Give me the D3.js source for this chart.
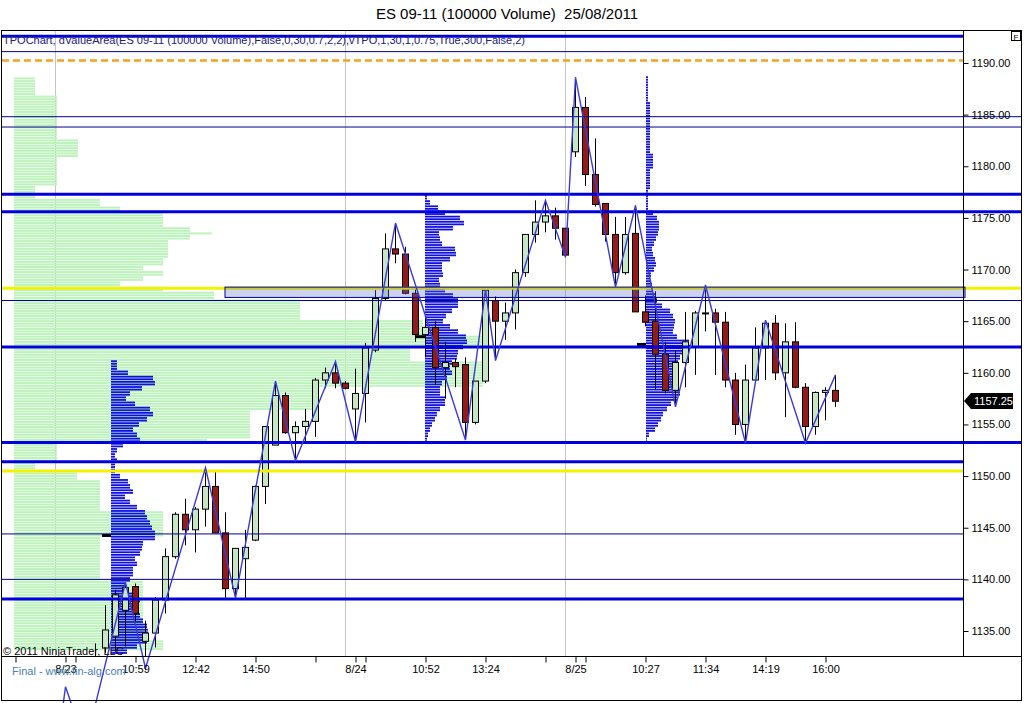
<!DOCTYPE html>
<html><head><meta charset="utf-8">
<script src="https://cdn.jsdelivr.net/npm/d3@7"></script>
<style>
html,body{margin:0;padding:0;background:#fff;overflow:hidden;}
svg{display:block;font-family:Arial,"Liberation Sans",sans-serif;}
</style></head><body>
<svg id="c" width="1024" height="703"></svg>
<script>
// ---------------- DATA ----------------
const chartTitle = "ES 09-11 (100000 Volume)  25/08/2011";
const indicatorLabel = "TPOChart, dValueArea(ES 09-11 (100000 Volume),False,0,30,0.7,2,2),vTPO,1,30,1,0.75,True,300,False,2)";
const copyright = "© 2011 NinjaTrader, LLC";
const footer = "Final - www.fin-alg.com";

const priceTicks = [1135,1140,1145,1150,1155,1160,1165,1170,1175,1180,1185,1190];
const lastPrice = 1157.25;

// time axis: bar index -> label ("" = unlabeled tick)
const timeTickBars   = [1, 6, 7, 13, 19, 25, 31, 35, 36, 42, 48, 54, 57, 58, 64, 70, 76, 82];
const timeTickLabels = ["", "8/23", "", "10:59", "12:42", "14:50", "", "8/24", "", "10:52", "13:24", "", "8/25", "", "10:27", "11:34", "14:19", "16:00"];
const sessionBreakBars = [5, 34, 56];

// candles (first bar index 9)
const firstBar = 9;
const opens  = [1130.5,1133.35,1134.5,1137.0,1139.3,1134.0,1134.8,1138.0,1142.2,1146.3,1144.8,1146.8,1149.0,1144.5,1139.1,1142.0,1143.8,1149.0,1153.0,1157.8,1154.2,1154.8,1155.3,1159.3,1160.0,1159.0,1156.5,1158.0,1162.2,1167.2,1172.0,1171.5,1167.7,1163.7,1164.4,1160.5,1161.0,1160.8,1155.2,1159.2,1167.0,1165.0,1165.8,1169.7,1173.4,1174.6,1175.2,1174.0,1181.4,1185.7,1179.2,1176.4,1173.4,1169.7,1173.5,1165.9,1165.0,1161.8,1158.3,1161.0,1162.5,1165.8,1165.8,1164.9,1159.3,1155.0,1159.3,1162.4,1164.8,1160.0,1163.0,1158.6,1154.8,1158.1,1158.3];
const highs  = [1133.8,1137.5,1139.0,1139.7,1139.6,1136.0,1138.3,1143.0,1146.5,1147.8,1147.0,1150.8,1150.4,1146.5,1143.0,1144.8,1149.1,1154.8,1159.2,1158.1,1155.3,1156.5,1159.5,1160.5,1161.1,1159.2,1160.4,1162.9,1168.0,1173.5,1174.5,1172.2,1168.2,1165.5,1165.0,1163.0,1161.4,1161.5,1159.2,1168.0,1167.4,1166.8,1170.0,1173.4,1176.7,1176.7,1176.0,1174.0,1188.6,1186.7,1182.7,1176.4,1175.1,1175.1,1176.2,1167.5,1167.9,1163.0,1162.2,1165.9,1166.0,1168.5,1166.2,1165.9,1160.0,1160.8,1164.4,1165.1,1165.6,1164.8,1164.9,1159.0,1158.2,1158.6,1159.8];
const lows   = [1128.5,1132.9,1133.0,1133.5,1135.9,1131.4,1133.4,1136.7,1142.0,1143.3,1142.6,1145.1,1144.5,1138.2,1138.2,1138.2,1143.7,1147.3,1153.0,1154.1,1151.5,1153.3,1153.8,1158.5,1158.5,1158.4,1153.3,1155.2,1162.0,1167.0,1170.6,1167.6,1163.0,1161.5,1158.8,1157.5,1158.6,1153.5,1155.0,1159.0,1161.2,1163.2,1164.2,1169.3,1172.6,1173.6,1172.9,1171.2,1180.9,1178.1,1176.1,1172.7,1168.3,1169.5,1165.9,1164.5,1158.4,1158.0,1156.7,1158.6,1159.8,1164.0,1159.8,1158.6,1154.0,1153.2,1159.3,1159.3,1159.3,1155.7,1158.5,1153.2,1154.0,1155.4,1156.7];
const closes = [1132.5,1135.1,1138.5,1139.2,1136.7,1134.8,1138.0,1142.2,1146.3,1144.8,1146.8,1149.0,1144.5,1139.1,1143.0,1143.1,1149.0,1154.8,1157.8,1154.2,1154.8,1155.3,1159.3,1160.0,1159.0,1158.5,1158.0,1162.4,1167.2,1172.0,1171.5,1167.7,1163.7,1164.4,1160.5,1161.0,1160.6,1155.2,1159.2,1168.0,1165.0,1165.8,1169.7,1173.4,1174.6,1175.2,1174.0,1171.4,1185.7,1179.2,1176.3,1173.4,1169.7,1173.4,1165.9,1164.9,1161.8,1158.3,1161.0,1163.0,1165.8,1165.8,1164.9,1159.3,1155.0,1159.3,1162.4,1164.8,1160.0,1163.0,1158.6,1154.8,1158.1,1158.3,1157.25];

// zigzag swing points [bar, price]
const zigzag = [[5,1122.3],[6,1129.6],[8,1124.0],[12,1139.7],[14,1131.4],[20,1150.8],[23,1138.2],[27,1159.2],[29,1151.5],[33,1161.1],[35,1153.3],[39,1174.5],[46,1153.5],[48,1168.0],[49,1161.2],[54,1176.7],[56,1171.2],[57,1188.6],[61,1168.3],[63,1176.2],[67,1156.7],[70,1168.5],[74,1153.2],[76,1165.1],[80,1153.2],[83,1159.8]];

// horizontal levels
const thickLevelsPrior   = [1192.6, 1151.4, 1138.1];
const thickLevelsCurrent = [1177.3, 1175.6, 1162.5, 1153.25];
const thinLevelsPrior    = [1191.1, 1144.4, 1140.0];
const thinLevelsCurrent  = [1184.8, 1183.8, 1167.0];
const yellowLevelsPrior  = [1150.5];
const yellowLevelsCurrent= [1168.2];
const orangeLevels       = [1190.25];
const valueBox = {fromBar: 22, hi: 1168.3, lo: 1167.3};

// composite (green) profile: [high price, low price, volume]
const greenProfileStartBar = 0.9;
const greenProfile = [
 [1188.5,1187.0,21],[1186.75,1182.75,43],[1182.5,1181.0,64],[1180.75,1178.25,43],[1178.0,1177.0,21],
 [1176.75,1176.25,86],[1176.0,1175.75,106],[1175.5,1174.25,149],[1174.0,1173.75,176],[1173.5,1173.5,198],
 [1173.25,1173.0,176],[1172.75,1171.25,154],[1171.0,1170.5,149],[1170.25,1170.0,129],[1169.75,1169.5,149],
 [1169.25,1169.0,129],[1168.75,1168.5,106],[1168.25,1168.0,149],[1167.75,1167.25,200],[1167.0,1165.25,286],
 [1165.0,1163.75,409],[1163.5,1162.5,469],[1162.25,1161.25,396],[1161.0,1158.75,469],[1158.5,1156.5,299],
 [1156.25,1153.75,236],[1153.5,1153.5,193],[1153.25,1151.5,43],[1151.25,1150.75,21],[1150.5,1149.75,63],
 [1149.5,1146.75,86],[1146.5,1144.25,149],[1144.0,1140.0,86],[1139.75,1134.25,129],[1134.0,1133.25,149]
];

// session (blue) profiles: volume per 0.5 point, from top price downward
const profileStartBars = [10.6, 42, 64.1];
const profileTops = [1161, 1177, 1188.5];
const profilePOC = [1144.25, 1163.5, 1162.75];
const profile1 = [6,6,17,42,44,31,19,15,24,39,42,36,28,22,26,29,12,6,4,6,4,4,9,17,19,22,14,19,26,34,36,39,41,44,44,32,31,29,24,26,22,22,19,14,12,22,29,26,26,29,32,36,37,37,36,26,16];
const profile2 = [2,5,13,20,35,39,28,14,15,17,30,31,25,17,17,18,14,15,20,28,33,33,27,21,18,25,33,41,42,38,33,32,27,25,27,22,17,15,15,20,20,15,12,10,7,5,3,2];
const profile3 = [2,2,2,2,2,4,4,4,4,4,4,4,4,4,4,7,7,7,4,4,4,4,2,2,2,2,7,11,13,13,12,10,8,6,7,9,10,8,5,4,6,6,9,11,16,24,27,29,28,27,31,43,44,41,34,32,31,30,28,26,32,34,31,25,21,17,15,12,9,3,1];
const profiles = [profile1, profile2, profile3];

// ---------------- DRAW ----------------
const svg = d3.select("#c");
const PL = 2, PT = 31, PR = 963, PB = 656;
const y = d3.scaleLinear().domain([1135, 1190]).range([631, 63]);
const x = d3.scaleLinear().domain([0, 83]).range([5, 835]);
const vol = d3.scaleLinear().domain([0, 100]).range([0, 100]);

const THICK = "#0000dc", THIN = "#000090", PROF = "#1010e0", ZZ = "#3a3ad8";

svg.append("defs").append("clipPath").attr("id","plotClip")
  .append("rect").attr("x",PL).attr("y",PT).attr("width",PR-PL).attr("height",PB-PT);

// title
svg.append("text").attr("x",507).attr("y",19).attr("text-anchor","middle")
  .attr("font-size",15).attr("fill","#000").attr("xml:space","preserve")
  .style("white-space","pre").text(chartTitle);

const plot = svg.append("g").attr("clip-path","url(#plotClip)");

// session break lines
plot.selectAll(".sess").data(sessionBreakBars).join("line")
  .attr("x1",d=>x(d)+0.5).attr("x2",d=>x(d)+0.5).attr("y1",PT).attr("y2",PB)
  .attr("stroke","#c4c4c4").attr("stroke-width",1);

// green composite profile
const gx0 = x(greenProfileStartBar);
const greenRows = [];
greenProfile.forEach(([hi, lo, v]) => {
  for (let p = hi; p >= lo - 1e-9; p -= 0.25) greenRows.push([p, v]);
});
plot.append("g").selectAll("rect").data(greenRows).join("rect")
  .attr("x", gx0).attr("y", d => y(d[0]) - 1).attr("width", d => vol(d[1])).attr("height", 2)
  .attr("fill", "#bdf2bd");

// blue session profiles
profiles.forEach((counts, k) => {
  const x0 = x(profileStartBars[k]);
  const rows = [];
  counts.forEach((c, j) => {
    const p = profileTops[k] - j * 0.5;
    rows.push([p + 0.125, c]); rows.push([p - 0.125, c]);
  });
  plot.append("g").selectAll("rect").data(rows).join("rect")
    .attr("x", x0).attr("y", d => y(d[0]) - 0.9).attr("width", d => Math.max(1, vol(d[1])))
    .attr("height", 1.8).attr("fill", PROF);
  plot.append("rect").attr("x", x0 - 9).attr("y", y(profilePOC[k]) - 1.5)
    .attr("width", 9).attr("height", 3).attr("fill", "#000");
});

// horizontal levels
const hl = (arr, x2, color, w, dash) => svg.append("g").selectAll("line").data(arr).join("line")
  .attr("x1", PL).attr("x2", x2).attr("y1", d => y(d)).attr("y2", d => y(d))
  .attr("stroke", color).attr("stroke-width", w).attr("stroke-dasharray", dash || null);
hl(yellowLevelsPrior, PR, "#f2f200", 3);
hl(yellowLevelsCurrent, 1021, "#f2f200", 3);
hl(orangeLevels, PR, "#f5a31c", 2.5, "7,4");
hl(thinLevelsPrior, PR, THIN, 1);
hl(thinLevelsCurrent, 1021, THIN, 1);
hl(thickLevelsPrior, PR, THICK, 3);
hl(thickLevelsCurrent, 1021, THICK, 3);

// value area box
svg.append("rect").attr("x", x(valueBox.fromBar)).attr("y", y(valueBox.hi))
  .attr("width", PR + 2 - x(valueBox.fromBar)).attr("height", y(valueBox.lo) - y(valueBox.hi))
  .attr("fill", "rgba(90,105,200,0.3)").attr("stroke", THIN).attr("stroke-width", 1);

// candles
const candles = opens.map((o, j) => ({i: firstBar + j, o, h: highs[j], l: lows[j], c: closes[j]}));
const cg = plot.append("g");
cg.selectAll("line").data(candles).join("line")
  .attr("x1", d => x(d.i) + 0.5).attr("x2", d => x(d.i) + 0.5)
  .attr("y1", d => y(d.h)).attr("y2", d => y(d.l)).attr("stroke", "#000").attr("stroke-width", 1);
cg.selectAll("rect").data(candles).join("rect")
  .attr("x", d => x(d.i) - 2.5).attr("width", 6)
  .attr("y", d => y(Math.max(d.o, d.c)))
  .attr("height", d => Math.max(1, Math.abs(y(d.o) - y(d.c))))
  .attr("fill", d => d.c >= d.o ? "#c6e6c6" : "#951b1b")
  .attr("stroke", "#000").attr("stroke-width", 1);

// zigzag
svg.append("path").datum(zigzag)
  .attr("d", d3.line().x(d => x(d[0]) + 0.5).y(d => y(d[1])))
  .attr("fill", "none").attr("stroke", ZZ).attr("stroke-width", 1.4);

// indicator label
svg.append("text").attr("x", 3).attr("y", 44).attr("font-size", 11)
  .attr("textLength", 522).attr("lengthAdjust", "spacingAndGlyphs")
  .attr("fill", "#20207a").text(indicatorLabel);

// frame and axes lines
svg.append("rect").attr("x", 1.5).attr("y", 30.5).attr("width", 1020).attr("height", 670)
  .attr("fill", "none").attr("stroke", "#000");
svg.append("line").attr("x1", PR + 0.5).attr("x2", PR + 0.5).attr("y1", 30).attr("y2", PB)
  .attr("stroke", "#000");
svg.append("line").attr("x1", 1).attr("x2", 1022).attr("y1", PB + 0.5).attr("y2", PB + 0.5)
  .attr("stroke", "#000");

// price axis
const yAxis = d3.axisRight(y).tickValues(priceTicks).tickSize(5).tickPadding(3)
  .tickFormat(d3.format(".2f"));
const ya = svg.append("g").attr("transform", `translate(${PR + 0.5},0)`).call(yAxis);
ya.select(".domain").remove();
ya.selectAll("text").attr("font-size", 11).attr("font-family", "Arial, 'Liberation Sans', sans-serif").attr("fill", "#000");
ya.selectAll("line").attr("stroke", "#000");

// last price tag
const ly = Math.round(y(lastPrice));
svg.append("path").attr("d", `M964,${ly} L971,${ly-8} L1013,${ly-8} L1013,${ly+8} L971,${ly+8} Z`).attr("fill", "#000");
svg.append("text").attr("x", 974).attr("y", ly).attr("dy", "0.35em").attr("font-size", 11)
  .attr("fill", "#fff").text(lastPrice.toFixed(2));

// F box
svg.append("rect").attr("x", 1011.5).attr("y", 31.5).attr("width", 9).attr("height", 9)
  .attr("fill", "#fff").attr("stroke", "#000");
svg.append("text").attr("x", 1016).attr("y", 39.5).attr("text-anchor", "middle").attr("font-size", 8).text("F");

// time axis
const xAxis = d3.axisBottom(x).tickValues(timeTickBars).tickSize(6).tickPadding(3)
  .tickFormat((d, k) => timeTickLabels[k]);
const xa = svg.append("g").attr("transform", `translate(0.5,${PB + 0.5})`).call(xAxis);
xa.select(".domain").remove();
xa.selectAll("text").attr("font-size", 11).attr("font-family", "Arial, 'Liberation Sans', sans-serif").attr("fill", "#000");
xa.selectAll("line").attr("stroke", "#000");

// footer texts
svg.append("text").attr("x", 3).attr("y", 655).attr("font-size", 11).attr("fill", "#000").text(copyright);
svg.append("text").attr("x", 12).attr("y", 675).attr("font-size", 11).attr("fill", "#4a80b6").text(footer);
</script>
</body></html>
